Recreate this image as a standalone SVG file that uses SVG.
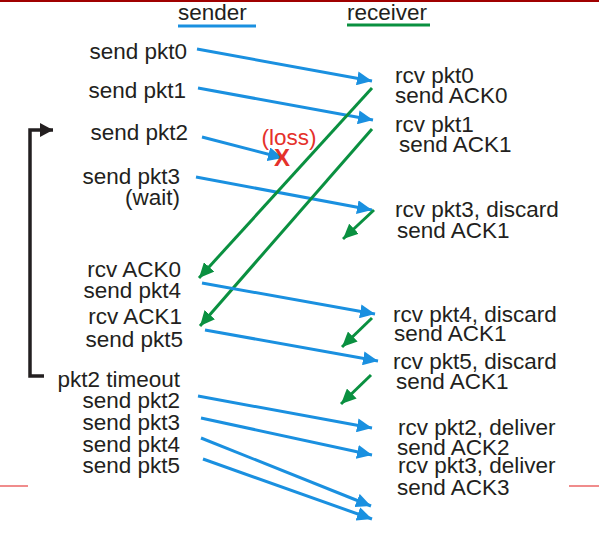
<svg xmlns="http://www.w3.org/2000/svg" width="599" height="548" viewBox="0 0 599 548">
<style>
text{font-family:"Liberation Sans",Arial,sans-serif;font-size:22.5px;fill:#231f20}
.r{text-anchor:end}
.blue{stroke:#1a90e0;stroke-width:3;fill:none}
.green{stroke:#0a9040;stroke-width:3;fill:none}
.red{fill:#e5312b}
</style>
<defs>
<marker id="ab" markerUnits="userSpaceOnUse" markerWidth="16" markerHeight="14" refX="15" refY="7" orient="auto"><path d="M0,0 L15,7 L0,14 Z" fill="#1a90e0"/></marker>
<marker id="ag" markerUnits="userSpaceOnUse" markerWidth="16" markerHeight="14" refX="15" refY="7" orient="auto"><path d="M0,0 L15,7 L0,14 Z" fill="#0a9040"/></marker>
<marker id="ak" markerUnits="userSpaceOnUse" markerWidth="14" markerHeight="15" refX="13" refY="7" orient="auto"><path d="M0,0 L13,7 L0,14 Z" fill="#231f20"/></marker>
</defs>
<rect width="599" height="548" fill="#fff"/>
<line x1="0" y1="1" x2="599" y2="1" stroke="#a00000" stroke-width="2"/>
<line x1="0" y1="486" x2="28" y2="486" stroke="#f08c8c" stroke-width="2"/>
<line x1="569" y1="486" x2="599" y2="486" stroke="#f08c8c" stroke-width="2"/>

<g id="sender-header">
<text x="178" y="20">sender</text>
<line x1="178" y1="26" x2="256" y2="26" stroke="#1a90e0" stroke-width="3"/>
</g>
<g id="receiver-header">
<text x="347" y="20">receiver</text>
<line x1="347" y1="25" x2="430" y2="25" stroke="#0a9040" stroke-width="3"/>
</g>

<g id="sender-events">
<text class="r" x="187" y="59">send pkt0</text>
<text class="r" x="186" y="98">send pkt1</text>
<text class="r" x="188" y="140">send pkt2</text>
<text class="r" x="180" y="184">send pkt3</text>
<text class="r" x="180" y="205">(wait)</text>
<text class="r" x="181" y="277">rcv ACK0</text>
<text class="r" x="181" y="298">send pkt4</text>
<text class="r" x="182" y="324">rcv ACK1</text>
<text class="r" x="183" y="347">send pkt5</text>
<text class="r" x="180" y="387">pkt2 timeout</text>
<text class="r" x="180" y="408">send pkt2</text>
<text class="r" x="180" y="430">send pkt3</text>
<text class="r" x="180" y="452">send pkt4</text>
<text class="r" x="180" y="473">send pkt5</text>
</g>

<g id="receiver-events">
<text x="395" y="83">rcv pkt0</text>
<text x="395" y="103">send ACK0</text>
<text x="395" y="132">rcv pkt1</text>
<text x="399" y="152">send ACK1</text>
<text x="395" y="217">rcv pkt3, discard</text>
<text x="397" y="238">send ACK1</text>
<text x="393" y="322">rcv pkt4, discard</text>
<text x="394" y="341">send ACK1</text>
<text x="393" y="369">rcv pkt5, discard</text>
<text x="396" y="389">send ACK1</text>
<text x="398" y="435">rcv pkt2, deliver</text>
<text x="397" y="455">send ACK2</text>
<text x="398" y="473">rcv pkt3, deliver</text>
<text x="397" y="495">send ACK3</text>
</g>

<g id="loss">
<text class="red" x="289" y="145" text-anchor="middle">(loss)</text>
</g>

<g id="connectors">
<line class="blue" x1="197" y1="49" x2="372" y2="81" marker-end="url(#ab)"/>
<line class="blue" x1="198" y1="88" x2="373" y2="120" marker-end="url(#ab)"/>
<line class="blue" x1="202" y1="137" x2="283" y2="158" marker-end="url(#ab)"/>
<line class="blue" x1="196" y1="177" x2="372" y2="210" marker-end="url(#ab)"/>
<line class="green" x1="372" y1="88" x2="199" y2="278" marker-end="url(#ag)"/>
<line class="green" x1="372" y1="129" x2="200" y2="326" marker-end="url(#ag)"/>
<line class="green" x1="374" y1="210" x2="343" y2="239" marker-end="url(#ag)"/>
<line class="blue" x1="202" y1="283" x2="375" y2="314" marker-end="url(#ab)"/>
<line class="green" x1="372" y1="318" x2="342" y2="347" marker-end="url(#ag)"/>
<line class="blue" x1="205" y1="330" x2="378" y2="361" marker-end="url(#ab)"/>
<line class="green" x1="371" y1="375" x2="341" y2="404" marker-end="url(#ag)"/>
<line class="blue" x1="198" y1="396" x2="372" y2="428" marker-end="url(#ab)"/>
<line class="blue" x1="201" y1="418" x2="372" y2="455" marker-end="url(#ab)"/>
<line class="blue" x1="201" y1="438" x2="371" y2="506" marker-end="url(#ab)"/>
<line class="blue" x1="203" y1="459" x2="372" y2="519" marker-end="url(#ab)"/>
<polyline points="44,376 30,376 30,130 53,130" fill="none" stroke="#231f20" stroke-width="3.5" marker-end="url(#ak)"/>
</g>

<g id="loss-mark">
<text class="red" x="282" y="166" text-anchor="middle" style="font-weight:bold;font-size:24px">X</text>
</g>
</svg>
